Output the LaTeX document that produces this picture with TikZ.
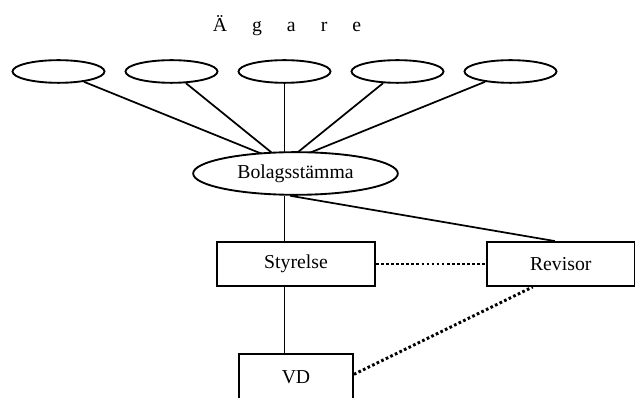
\documentclass[tikz,border=0pt]{standalone}
\usepackage{fontspec}
\setmainfont{Liberation Serif}
\usetikzlibrary{shapes.geometric}
\begin{document}
\begin{tikzpicture}[x=0.75pt,y=-0.75pt,
  txt/.style={font=\fontsize{14.8pt}{17pt}\selectfont},
  owner/.style={ellipse,draw,line width=1.4pt,minimum width=69pt,minimum height=17pt,inner sep=0pt},
  meet/.style={ellipse,draw,line width=1.4pt,fill=white,minimum width=153.5pt,minimum height=32pt,inner sep=0pt,txt},
  box/.style={rectangle,draw,line width=1.4pt,inner sep=0pt,txt},
  solidline/.style={line width=1.3pt},
  dotline/.style={line width=2.2pt,dash pattern=on 2pt off 1.8pt}]
\useasboundingbox (0,0) rectangle (636,398);
\node[txt,anchor=base] (agare) at (287,32) {Ä\hspace{18.75pt}g\hspace{18.75pt}a\hspace{18.75pt}r\hspace{18.75pt}e};
\node[owner] (e1) at (58.5,71.5) {};
\node[owner] (e2) at (171.5,71.5) {};
\node[owner] (e3) at (284.5,71.5) {};
\node[owner] (e4) at (397.5,71.5) {};
\node[owner] (e5) at (510.5,71.5) {};
\coordinate (hub) at (284.5,163);
\foreach \e in {e1,e2,e3,e4,e5} \draw[solidline] (\e) -- (hub);
\node[meet] (bs) at (295.5,173.5) {Bolagsstämma};
\node[box,minimum width=118.5pt,minimum height=33pt] (sty) at (296,264) {Styrelse};
\node[box,minimum width=110.6pt,minimum height=33pt] (rev) at (560.75,264) {Revisor};
\node[box,minimum width=85.5pt,minimum height=34.5pt] (vd) at (296,377) {VD};
\draw[solidline] (bs.south -| hub) -- (sty.north -| hub);
\draw[solidline] (sty.south -| hub) -- (vd.north -| hub);
\draw[solidline] ([xshift=-4pt]bs.south) -- ([xshift=-4.5pt]rev.north);
\draw[dotline] (sty.east) -- (rev.west);
\draw[dotline] ([yshift=2pt]vd.east) -- ([xshift=-21pt]rev.south);
\end{tikzpicture}
\end{document}
